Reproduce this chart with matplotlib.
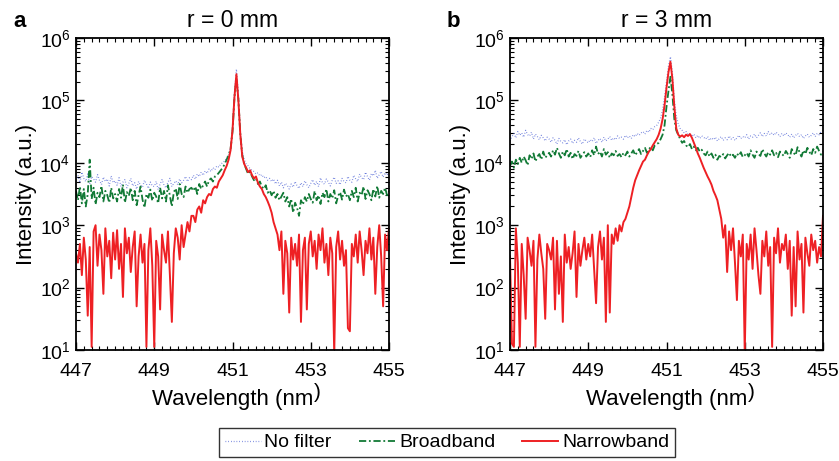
import numpy as np
import matplotlib
matplotlib.use("Agg")
import matplotlib.pyplot as plt
from matplotlib.ticker import MultipleLocator, LogLocator, NullFormatter

plt.rcParams["font.family"] = ["Liberation Sans", "DejaVu Sans"]
plt.rcParams["mathtext.fontset"] = "custom"
plt.rcParams["mathtext.rm"] = "Liberation Sans"
plt.rcParams["mathtext.it"] = "Liberation Sans:italic"

# Wavelength grid of the spectra (nm), 0.05 nm spacing
wavelength = np.round(np.arange(447.0, 455.0001, 0.05), 2)

# log10 of intensity (a.u.), panel a: r = 0 mm
log_nofilter_a = [
    3.72, 3.80, 3.68, 3.85, 3.75, 3.70, 3.82, 3.66, 3.78, 3.74, 3.69, 3.81, 3.72, 3.65, 3.77, 3.70, 3.74, 3.63, 3.79, 3.68,
    3.71, 3.64, 3.76, 3.62, 3.69, 3.73, 3.60, 3.67, 3.75, 3.63, 3.68, 3.58, 3.70, 3.64, 3.61, 3.72, 3.66, 3.59, 3.69, 3.63,
    3.62, 3.70, 3.57, 3.66, 3.73, 3.64, 3.60, 3.69, 3.75, 3.62, 3.67, 3.71, 3.65, 3.74, 3.68, 3.72, 3.78, 3.70, 3.76, 3.73,
    3.80, 3.74, 3.82, 3.78, 3.85, 3.80, 3.87, 3.83, 3.90, 3.86, 3.92, 3.89, 3.95, 3.93, 3.98, 4.00, 4.03, 4.08, 4.12, 4.25,
    4.55, 5.12, 5.50, 5.10, 4.50, 4.18, 4.05, 3.98, 3.95, 3.90, 3.88, 3.86, 3.82, 3.84, 3.79, 3.81, 3.76, 3.78, 3.72, 3.75,
    3.70, 3.74, 3.66, 3.72, 3.63, 3.69, 3.60, 3.67, 3.64, 3.58, 3.66, 3.61, 3.70, 3.63, 3.59, 3.68, 3.62, 3.71, 3.65, 3.60,
    3.67, 3.73, 3.64, 3.70, 3.62, 3.76, 3.68, 3.66, 3.74, 3.69, 3.63, 3.72, 3.77, 3.67, 3.71, 3.65, 3.75, 3.70, 3.68, 3.78,
    3.72, 3.69, 3.80, 3.74, 3.70, 3.82, 3.76, 3.73, 3.85, 3.78, 3.72, 3.83, 3.79, 3.88, 3.75, 3.81, 3.86, 3.77, 3.84, 3.80,
    3.85,
]
log_broadband_a = [
    3.55, 3.40, 3.62, 3.35, 3.58, 3.30, 3.50, 4.05, 3.42, 3.60, 3.33, 3.52, 3.45, 3.63, 3.38, 3.55, 3.48, 3.36, 3.60, 3.43,
    3.50, 3.38, 3.58, 3.44, 3.65, 3.36, 3.53, 3.47, 3.60, 3.40, 3.55, 3.32, 3.48, 3.62, 3.41, 3.28, 3.50, 3.44, 3.57, 3.39,
    3.52, 3.46, 3.35, 3.60, 3.43, 3.55, 3.38, 3.64, 3.47, 3.30, 3.53, 3.59, 3.42, 3.66, 3.50, 3.45, 3.62, 3.52, 3.58, 3.60,
    3.55, 3.62, 3.50, 3.66, 3.58, 3.64, 3.70, 3.62, 3.72, 3.75, 3.70, 3.78, 3.80, 3.84, 3.88, 3.92, 3.98, 4.05, 4.12, 4.22,
    4.50, 5.05, 5.35, 5.02, 4.45, 4.12, 3.98, 3.90, 3.82, 3.86, 3.78, 3.72, 3.75, 3.66, 3.70, 3.62, 3.58, 3.64, 3.52, 3.56,
    3.48, 3.55, 3.44, 3.50, 3.40, 3.46, 3.52, 3.38, 3.45, 3.30, 3.42, 3.20, 3.36, 3.28, 3.15, 3.40, 3.33, 3.45, 3.38, 3.50,
    3.42, 3.36, 3.55, 3.40, 3.48, 3.34, 3.52, 3.45, 3.58, 3.38, 3.50, 3.43, 3.56, 3.35, 3.47, 3.53, 3.41, 3.57, 3.46, 3.50,
    3.40, 3.55, 3.45, 3.60, 3.38, 3.52, 3.48, 3.62, 3.42, 3.56, 3.50, 3.40, 3.58, 3.46, 3.63, 3.44, 3.55, 3.50, 3.60, 3.48,
    3.55,
]
log_narrowband_a = [
    2.55, 2.40, 2.70, 2.20, 2.80, 2.45, 1.55, 2.65, 1.05, 2.90, 3.00, 2.35, 2.85, 2.60, 1.90, 2.95, 2.50, 2.75, 2.15, 2.88,
    2.45, 2.92, 2.30, 2.70, 1.85, 2.95, 2.55, 2.80, 2.25, 2.65, 2.90, 1.70, 2.50, 2.85, 2.40, 2.70, 1.05, 2.60, 2.95, 2.35,
    1.05, 2.75, 2.50, 1.65, 2.85, 2.60, 2.40, 2.90, 2.20, 1.45, 2.55, 2.95, 2.80, 2.45, 3.00, 2.65, 2.85, 3.05, 2.90, 3.15,
    3.15, 3.05, 3.25, 3.30, 3.20, 3.40, 3.35, 3.45, 3.50, 3.48, 3.58, 3.62, 3.60, 3.70, 3.75, 3.80, 3.88, 3.95, 4.05, 4.20,
    4.52, 5.05, 5.42, 5.00, 4.45, 4.10, 3.98, 3.92, 3.85, 3.88, 3.80, 3.75, 3.78, 3.68, 3.62, 3.58, 3.50, 3.45, 3.38, 3.30,
    3.20, 3.05, 2.95, 2.85, 2.60, 2.90, 1.90, 2.75, 2.55, 1.60, 2.80, 2.45, 2.70, 2.35, 2.85, 1.45, 2.60, 2.80, 1.65, 2.70,
    2.90, 2.50, 2.75, 2.30, 2.85, 2.60, 2.95, 2.40, 2.70, 2.20, 2.80, 2.55, 0.95, 2.65, 2.90, 2.45, 2.75, 2.35, 2.60, 1.35,
    1.30, 2.70, 2.50, 2.85, 2.40, 2.90, 2.60, 2.20, 2.75, 2.55, 2.95, 2.45, 2.80, 1.90, 2.65, 3.00, 2.50, 1.70, 2.85, 2.60,
    2.95,
]

# log10 of intensity (a.u.), panel b: r = 3 mm
log_nofilter_b = [
    4.35, 4.42, 4.47, 4.40, 4.50, 4.44, 4.48, 4.41, 4.52, 4.45, 4.43, 4.49, 4.38, 4.46, 4.42, 4.37, 4.44, 4.40, 4.35, 4.41,
    4.38, 4.33, 4.40, 4.36, 4.30, 4.39, 4.34, 4.32, 4.37, 4.29, 4.35, 4.38, 4.31, 4.36, 4.33, 4.40, 4.34, 4.30, 4.38, 4.35,
    4.32, 4.37, 4.34, 4.40, 4.31, 4.36, 4.39, 4.33, 4.41, 4.35, 4.38, 4.42, 4.36, 4.40, 4.37, 4.43, 4.39, 4.41, 4.38, 4.44,
    4.40, 4.43, 4.39, 4.45, 4.42, 4.47, 4.44, 4.48, 4.50, 4.46, 4.52, 4.49, 4.55, 4.53, 4.58, 4.60, 4.65, 4.72, 4.85, 5.05,
    5.30, 5.55, 5.70, 5.45, 5.00, 4.75, 4.62, 4.55, 4.52, 4.48, 4.50, 4.45, 4.47, 4.42, 4.46, 4.40, 4.44, 4.39, 4.43, 4.41,
    4.38, 4.42, 4.36, 4.40, 4.37, 4.41, 4.35, 4.39, 4.42, 4.36, 4.40, 4.37, 4.43, 4.38, 4.41, 4.36, 4.40, 4.44, 4.39, 4.42,
    4.40, 4.45, 4.38, 4.43, 4.41, 4.46, 4.40, 4.44, 4.48, 4.42, 4.47, 4.43, 4.50, 4.45, 4.48, 4.44, 4.49, 4.46, 4.42, 4.47,
    4.43, 4.48, 4.45, 4.41, 4.46, 4.40, 4.44, 4.47, 4.42, 4.45, 4.39, 4.43, 4.46, 4.41, 4.44, 4.48, 4.42, 4.47, 4.45, 4.50,
    4.52,
]
log_broadband_b = [
    3.95, 4.02, 3.92, 4.05, 3.98, 4.08, 4.00, 4.10, 4.04, 3.96, 4.12, 4.06, 4.15, 4.02, 4.10, 4.14, 4.05, 4.18, 4.08, 4.12,
    4.16, 4.10, 4.20, 4.13, 4.24, 4.15, 4.08, 4.18, 4.12, 4.22, 4.10, 4.16, 4.06, 4.14, 4.11, 4.19, 4.08, 4.13, 4.17, 4.10,
    4.15, 4.09, 4.20, 4.12, 4.26, 4.14, 4.18, 4.10, 4.22, 4.13, 4.17, 4.08, 4.15, 4.12, 4.19, 4.11, 4.14, 4.09, 4.16, 4.12,
    4.18, 4.10, 4.15, 4.20, 4.12, 4.17, 4.22, 4.14, 4.19, 4.24, 4.16, 4.22, 4.25, 4.20, 4.28, 4.30, 4.32, 4.38, 4.45, 4.60,
    4.90, 5.15, 5.38, 5.10, 4.70, 4.52, 4.45, 4.38, 4.32, 4.35, 4.28, 4.25, 4.30, 4.22, 4.26, 4.20, 4.24, 4.18, 4.21, 4.15,
    4.12, 4.18, 4.10, 4.15, 4.08, 4.13, 4.05, 4.11, 4.09, 4.14, 4.07, 4.12, 4.16, 4.10, 4.13, 4.08, 4.15, 4.11, 4.17, 4.09,
    4.12, 4.16, 4.10, 4.20, 4.13, 4.08, 4.18, 4.14, 4.11, 4.22, 4.15, 4.10, 4.17, 4.13, 4.20, 4.12, 4.16, 4.09, 4.18, 4.14,
    4.11, 4.19, 4.14, 4.08, 4.22, 4.16, 4.12, 4.25, 4.17, 4.10, 4.20, 4.14, 4.24, 4.18, 4.12, 4.22, 4.16, 4.26, 4.19, 4.13,
    4.18,
]
log_narrowband_b = [
    2.50, 1.10, 1.05, 2.95, 2.40, 1.05, 2.70, 2.20, 1.50, 2.80, 2.60, 2.35, 2.75, 1.05, 2.45, 2.85, 2.55, 2.30, 1.50, 2.70,
    2.60, 2.45, 2.80, 1.65, 2.75, 1.90, 2.50, 1.45, 2.85, 2.40, 2.65, 2.30, 2.55, 2.90, 1.85, 2.70, 2.35, 2.60, 2.80, 2.45,
    2.70, 2.50, 2.85, 2.30, 1.75, 2.65, 2.90, 2.45, 2.80, 1.45, 3.00, 1.60, 2.85, 2.70, 2.95, 2.75, 3.00, 2.90, 3.05, 3.10,
    3.20, 3.30, 3.45, 3.60, 3.72, 3.80, 3.88, 3.95, 4.02, 4.05, 4.12, 4.18, 4.22, 4.28, 4.33, 4.38, 4.45, 4.55, 4.70, 4.92,
    5.20, 5.45, 5.62, 5.35, 4.90, 4.55, 4.45, 4.42, 4.44, 4.41, 4.45, 4.43, 4.46, 4.40, 4.32, 4.24, 4.15, 4.08, 4.00, 3.92,
    3.85, 3.78, 3.72, 3.65, 3.55, 3.48, 3.40, 3.25, 3.10, 2.80, 3.00, 2.25, 2.90, 2.60, 2.95, 2.40, 1.80, 2.75, 2.50, 2.85,
    0.95, 2.70, 2.45, 2.85, 2.30, 2.95, 2.60, 2.20, 1.90, 2.75, 2.50, 2.90, 2.35, 2.65, 1.05, 2.80, 2.55, 2.95, 2.40, 2.70,
    2.60, 2.85, 2.30, 2.75, 1.55, 2.65, 1.70, 2.90, 2.45, 2.70, 1.60, 2.80, 2.55, 2.35, 2.85, 2.60, 2.75, 2.40, 2.65, 2.50,
    3.15,
]

panel_titles = ["r = 0 mm", "r = 3 mm"]
panel_letters = ["a", "b"]
series_labels = ["No filter", "Broadband", "Narrowband"]
x_ticks = [447, 449, 451, 453, 455]

panels = [
    (log_nofilter_a, log_broadband_a, log_narrowband_a),
    (log_nofilter_b, log_broadband_b, log_narrowband_b),
]

W, H = 839, 461
fig = plt.figure(figsize=(W / 100, H / 100), dpi=100)
ax_w, ax_h = 313 / W, 312 / H
ax_bottom = 1 - 350 / H
lefts = [76 / W, 510 / W]
letter_x = [13 / W, 447 / W]

styles = [
    dict(color="#4a5fd4", linestyle=(0, (0.6, 1.6)), linewidth=0.9, alpha=0.85),
    dict(color="#127a36", linestyle=(0, (4.0, 1.5, 1.0, 1.5)), linewidth=1.3),
    dict(color="#ee2024", linestyle="-", linewidth=1.4),
]

handles = []
for k, (series, title, letter) in enumerate(zip(panels, panel_titles, panel_letters)):
    ax = fig.add_axes([lefts[k], ax_bottom, ax_w, ax_h])
    handles = []
    for logs, st, lab in zip(series, styles, series_labels):
        h, = ax.plot(wavelength, 10.0 ** np.asarray(logs), label=lab, **st)
        handles.append(h)
    ax.set_yscale("log")
    ax.set_xlim(447, 455)
    ax.set_ylim(10, 1e6)
    ax.set_xticks(x_ticks)
    ax.xaxis.set_minor_locator(MultipleLocator(0.2))
    ax.yaxis.set_major_locator(LogLocator(base=10, numticks=10))
    ax.yaxis.set_minor_locator(LogLocator(base=10, subs=np.arange(2, 10), numticks=20))
    ax.yaxis.set_minor_formatter(NullFormatter())
    ax.tick_params(which="both", direction="in", top=True, right=True, labelsize=14, colors="black")
    ax.tick_params(which="major", length=6, width=1.0, pad=4)
    ax.tick_params(which="minor", length=3, width=0.8)
    ax.tick_params(axis="x", which="major", pad=9)
    for sp in ax.spines.values():
        sp.set_linewidth(1.3)
    xl = ax.set_xlabel("Wavelength (nm", fontsize=16, labelpad=7)
    ax.annotate(")", xy=(1, 1), xycoords=xl, xytext=(0.8, 4.5), textcoords="offset points",
                ha="left", va="top", fontsize=15)
    ax.set_ylabel("Intensity (a.u.)", fontsize=16, labelpad=2)
    ax.set_title(title, fontsize=16.5, pad=8)
    fig.text(letter_x[k], 1 - 27 / H, letter, fontsize=16, fontweight="bold",
             ha="left", va="baseline")

leg = fig.legend(handles, series_labels, loc="upper center", bbox_to_anchor=(447 / W, 1 - 428 / H),
                 ncol=3, fontsize=14, frameon=True, fancybox=False, edgecolor="black",
                 handlelength=1.85, handletextpad=0.2, columnspacing=1.4, borderpad=0.3,
                 borderaxespad=0.0)
leg.get_frame().set_linewidth(1.0)

fig.savefig("out.png", dpi=100)
